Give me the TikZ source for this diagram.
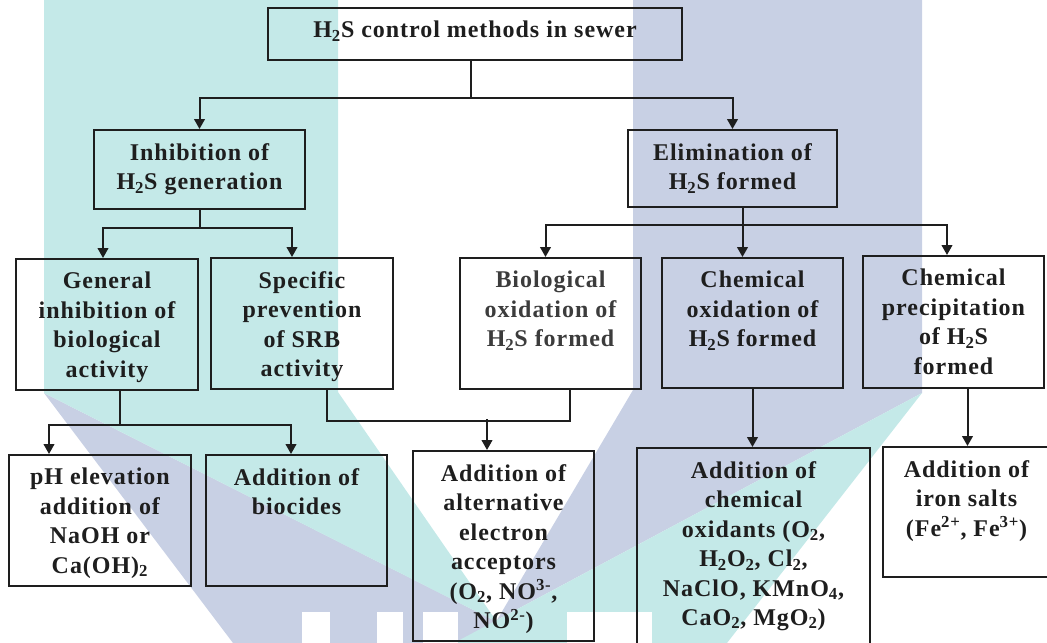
\documentclass[tikz,border=0pt]{standalone}
\usepackage{fontspec}
\setmainfont{Liberation Serif}[LetterSpace=4]
\usetikzlibrary{arrows.meta,calc,fit}
\definecolor{wmteal}{HTML}{C4E9E8}
\definecolor{wmblue}{HTML}{C8D0E4}
\definecolor{ink}{HTML}{1E1E1E}
\definecolor{softink}{HTML}{3C3C3C}
\tikzset{
  box/.style={draw=ink, line width=1.5pt, inner sep=0pt, fill=none},
  txt/.style={anchor=north, align=center, inner sep=0pt, text=ink,
              font=\fontsize{18}{22.1}\selectfont\bfseries},
  conn/.style={draw=ink, line width=1.5pt},
  arr/.style={conn, -{Triangle[length=7.5pt,width=8pt]}},
}
\begin{document}
\begin{tikzpicture}[x=0.75pt,y=-0.75pt]
\useasboundingbox (0,0) rectangle (1047,643);
\clip (0,0) rectangle (1047,643);

% watermark ribbons behind the chart
\fill[wmblue] (44,393) -- (233,643) -- (539,643) -- cycle;
\fill[wmteal] (44,0) -- (338,0) -- (338,392) -- (497,622) -- (44,393) -- cycle;
\fill[wmblue] (633,0) -- (922,0) -- (922,393) -- (497,620) -- (633,390) -- cycle;
\fill[wmteal] (922,393) -- (727,643) -- (454,643) -- cycle;
\fill[white] (302,612) rectangle (330,643);
\fill[white] (377,612) rectangle (403,643);
\fill[white] (423,612) rectangle (458,643);
\fill[white] (567,612) rectangle (652,643);

% boxes
\node[box, fit={(268,8) (682,60)}]    (top) {};
\node[box, fit={(94,130) (305,209)}]  (inh) {};
\node[box, fit={(628,130) (837,207)}] (eli) {};
\node[box, fit={(16,259) (198,390)}]  (gen) {};
\node[box, fit={(211,258) (393,389)}] (spe) {};
\node[box, fit={(460,258) (641,389)}] (bio) {};
\node[box, fit={(662,258) (843,388)}] (cox) {};
\node[box, fit={(863,256) (1044,388)}] (cpr) {};
\node[box, fit={(9,455) (191,586)}]   (ph) {};
\node[box, fit={(206,455) (387,586)}] (bcd) {};
\node[box, fit={(413,451) (594,641)}] (alt) {};
\node[box, fit={(637,448) (870,665)}] (cad) {};
\node[box, fit={(883,447) (1050,577)}] (iron) {};

% box texts
\node[txt] (top-t) at ($(top.north)+(0,14)$) {H\textsubscript{2}S control methods in sewer};
\node[txt] (inh-t) at ($(inh.north)+(0,14)$) {Inhibition of\\H\textsubscript{2}S generation};
\node[txt] (eli-t) at ($(eli.north)+(0,14)$) {Elimination of\\H\textsubscript{2}S formed};
\node[txt] (gen-t) at ($(gen.north)+(0,14)$) {General\\inhibition of\\biological\\activity};
\node[txt] (spe-t) at ($(spe.north)+(0,14)$) {Specific\\prevention\\of SRB\\activity};
\node[txt, text=softink] (bio-t) at ($(bio.north)+(0,14)$) {Biological\\oxidation of\\H\textsubscript{2}S formed};
\node[txt] (cox-t) at ($(cox.north)+(0,14)$) {Chemical\\oxidation of\\H\textsubscript{2}S formed};
\node[txt] (cpr-t) at ($(cpr.north)+(0,14)$) {Chemical\\precipitation\\of H\textsubscript{2}S\\formed};
\node[txt] (ph-t) at ($(ph.north)+(0,14)$) {pH elevation\\addition of\\NaOH or\\Ca(OH)\textsubscript{2}};
\node[txt] (bcd-t) at ($(bcd.north)+(0,14)$) {Addition of\\biocides};
\node[txt] (alt-t) at ($(alt.north)+(0,14)$) {Addition of\\alternative\\electron\\acceptors\\(O\textsubscript{2}, NO\textsuperscript{3-},\\NO\textsuperscript{2-})};
\node[txt] (cad-t) at ($(cad.north)+(0,14)$) {Addition of\\chemical\\oxidants (O\textsubscript{2},\\H\textsubscript{2}O\textsubscript{2}, Cl\textsubscript{2},\\NaClO, KMnO\textsubscript{4},\\CaO\textsubscript{2}, MgO\textsubscript{2})};
\node[txt] (iron-t) at ($(iron.north)+(0,14)$) {Addition of\\iron salts\\(Fe\textsuperscript{2+}, Fe\textsuperscript{3+})};

% connectors
\draw[conn] ($(top.south)+(-4,0)$) -- ++(0,37) coordinate (j0);
\draw[arr] (j0) -| (inh.north);
\draw[arr] (j0) -| (eli.north);

\draw[conn] (inh.south) -- ++(0,18) coordinate (j1);
\draw[arr] (j1) -| ($(gen.north)+(-4,0)$);
\draw[arr] (j1) -| ($(spe.north)+(-10,0)$);

\draw[conn] ($(eli.south)+(10,0)$) -- ++(0,17) coordinate (j2);
\draw[arr] (j2) -| ($(bio.north)+(-5,0)$);
\draw[arr] (j2) -- (j2 |- cox.north);
\draw[arr] (j2) -| ($(cpr.north)+(-6.5,0)$);

\draw[conn] ($(gen.south)+(13,0)$) -- ++(0,34) coordinate (j3);
\draw[arr] (j3) -| ($(ph.north)+(-51,0)$);
\draw[arr] (j3) -| ($(bcd.north)+(-5.5,0)$);

\draw[conn] ($(spe.south)+(25,0)$) |- ($(bio.south)+(19.5,31)$) -- ($(bio.south)+(19.5,0)$);
\draw[arr] ($(alt.north)+(-16.5,-31)$) -- ($(alt.north)+(-16.5,0)$);

\draw[arr] (cox.south) -- (cox.south |- cad.north);
\draw[arr] ($(cpr.south)+(14,0)$) coordinate (j5) -- (j5 |- iron.north);
\end{tikzpicture}
\end{document}
